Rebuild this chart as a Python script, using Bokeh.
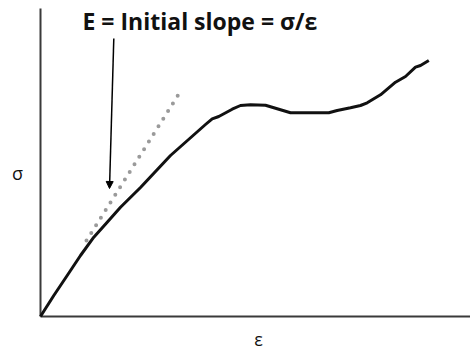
from bokeh.plotting import figure
from bokeh.models import Label, Arrow, NormalHead
from bokeh.embed import file_html
from bokeh.resources import INLINE

# Stress-strain curve (arbitrary units)
strain = [0.0, 0.017, 0.133, 0.267, 0.40, 0.533, 0.667, 0.80, 1.00, 1.30,
          1.65, 1.717, 1.783, 1.917, 2.00, 2.10, 2.25, 2.50, 2.883, 2.967,
          3.10, 3.20, 3.267, 3.40, 3.55, 3.65, 3.75, 3.80, 3.883]
stress = [0.0, 0.027, 0.21, 0.41, 0.61, 0.793, 0.943, 1.093, 1.29, 1.61,
          1.92, 1.977, 2.0, 2.073, 2.11, 2.117, 2.113, 2.037, 2.037, 2.06,
          2.087, 2.11, 2.137, 2.217, 2.343, 2.40, 2.493, 2.51, 2.56]

# Initial-slope tangent (dotted)
tangent_strain = [0.46, 1.415]
tangent_stress = [0.76, 2.275]

# Axes extents
axis_x_max = 4.30
axis_y_max = 3.08

title_text = "E = Initial slope = σ/ε"
x_label = "ε"
y_label = "σ"

p = figure(width=470, height=349, output_backend="svg", toolbar_location=None,
           x_range=(-0.40, 4.30), y_range=(-0.33, 3.16), min_border=0)
p.axis.visible = False
p.grid.visible = False
p.outline_line_color = None
p.background_fill_color = "white"
p.border_fill_color = "white"

# axis lines
p.line([0, axis_x_max], [0, 0], line_color="#3a3a3a", line_width=2)
p.line([0, 0], [0, axis_y_max], line_color="#3a3a3a", line_width=2)

# tangent
p.line(tangent_strain, tangent_stress, line_color="#9a9a9a", line_width=4,
       line_dash="0 9", line_cap="round")

# curve
p.line(strain, stress, line_color="#111111", line_width=3, line_join="round")

# arrow from title to tangent
p.add_layout(Arrow(end=NormalHead(size=7, fill_color="black", line_color="black"),
                   x_start=0.733, y_start=2.78, x_end=0.69, y_end=1.28,
                   line_width=1.5, line_color="black"))

p.add_layout(Label(x=0.42, y=2.96, text=title_text, text_font="Open Sans",
                   text_font_style="bold", text_font_size="23px",
                   text_color="#111111", text_baseline="middle"))
p.add_layout(Label(x=-0.23, y=1.44, text=y_label, text_font="Open Sans",
                   text_font_size="18px", text_color="#111111",
                   text_align="center", text_baseline="middle"))
p.add_layout(Label(x=2.18, y=-0.22, text=x_label, text_font="Open Sans",
                   text_font_size="18px", text_color="#111111",
                   text_align="center", text_baseline="middle"))

open("out.html", "w").write(file_html(p, INLINE))
